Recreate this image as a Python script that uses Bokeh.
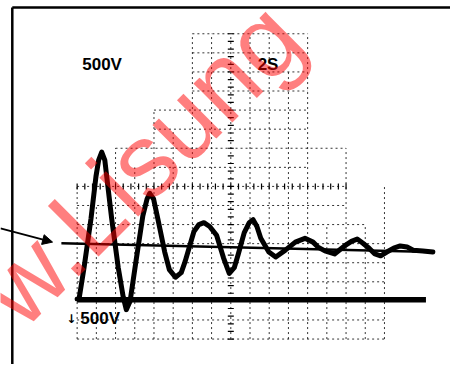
from bokeh.plotting import figure
from bokeh.models import Range1d, Arrow, NormalHead, Label
from bokeh.core.properties import value
from bokeh.embed import file_html
from bokeh.resources import INLINE
import math

# ---- data (in screen divisions) ----
trace_x = [0.00, 0.05, 0.18, 0.36, 0.49, 0.56, 0.64, 0.72, 0.77, 0.90, 1.07, 1.20, 1.28, 1.38,
           1.53, 1.71, 1.82, 1.89, 1.99, 2.10, 2.28, 2.40, 2.56, 2.71, 2.81, 3.04, 3.17, 3.30,
           3.45, 3.63, 3.81, 3.96, 4.09, 4.19, 4.35, 4.48, 4.58, 4.68, 4.78, 4.99, 5.17, 5.42,
           5.68, 5.93, 6.14, 6.27, 6.45, 6.70, 6.96, 7.14, 7.29, 7.44, 7.60, 7.75, 7.90, 8.06,
           8.24, 8.41, 8.59, 8.75, 9.00, 9.26]
trace_y = [1.05, 1.05, 1.87, 3.15, 4.26, 4.69, 4.90, 4.69, 4.26, 3.15, 1.87, 1.10, 0.77, 1.00,
           2.03, 3.23, 3.67, 3.82, 3.67, 3.15, 2.28, 1.82, 1.62, 1.74, 2.03, 2.82, 3.00, 3.05,
           2.95, 2.72, 2.13, 1.72, 1.87, 2.21, 2.79, 3.05, 3.13, 2.95, 2.64, 2.28, 2.15, 2.33,
           2.54, 2.64, 2.54, 2.41, 2.31, 2.23, 2.44, 2.56, 2.62, 2.51, 2.38, 2.23, 2.18, 2.28,
           2.38, 2.44, 2.41, 2.33, 2.31, 2.28]

ref_x = [-0.41, 9.26]
ref_y = [2.51, 2.28]

base_x = [0.0, 9.08]
base_y = [1.03, 1.03]

# graticule (divisions) and the visible extents of each line
vgrid_x = [0, 0.5, 1, 1.5, 2, 2.5, 3, 3.5, 4, 4.5, 5, 5.5, 6, 6.5, 7, 7.5, 8]
vgrid_top = [4, 3.5, 5, 4.5, 6, 5.5, 8, 8, 8, 8, 8, 7, 8, 3, 5, 3, 4]
hgrid_y = [0, 0.5, 1, 1.5, 2, 2.5, 3, 3.5, 4, 4.5, 5, 5.5, 6, 6.5, 7, 7.5, 8]
hgrid_x0 = [0, 0, 0, 0, 0, 0, 0, 0, 0, 2, 1, 2, 2, 3, 3, 3, 3]
hgrid_x1 = [8, 8, 8, 8, 8, 8, 7.5, 7, 7, 6, 7, 6, 6, 6, 6, 6, 6]

labels = ["500V", "2S", "500V"]
label_x = [0.65, 4.97, 0.60]
label_y = [7.19, 7.19, 0.54]

# ---- figure ----
X0, X1 = -1.995, 9.719
Y0, Y1 = -0.667, 8.872
p = figure(width=450, height=364, output_backend="svg", toolbar_location=None,
           x_range=Range1d(X0, X1), y_range=Range1d(Y0, Y1),
           x_axis_type=None, y_axis_type=None, min_border=0)
p.outline_line_color = None
p.xgrid.visible = False
p.ygrid.visible = False
p.background_fill_color = "white"

# graticule
p.segment(x0=vgrid_x, y0=[0] * len(vgrid_x), x1=vgrid_x, y1=vgrid_top,
          line_color="black", line_width=1, line_dash="2 3", line_alpha=0.8)
p.segment(x0=hgrid_x0, y0=hgrid_y, x1=hgrid_x1, y1=hgrid_y,
          line_color="black", line_width=1, line_dash="2 3", line_alpha=0.8)

# centre-line tick marks
ticks = [i * 0.2 for i in range(0, 41)]
p.scatter(x=[4] * len(ticks), y=ticks, marker="dash", size=6, line_color="black", line_width=1.2)
tx = [i * 0.2 for i in range(0, 36)]
p.scatter(x=tx, y=[4] * len(tx), marker="dash", angle=math.pi / 2, size=6,
          line_color="black", line_width=1.2)

# frame of the scan
p.segment(x0=[-1.688, -1.688], y0=[8.69, Y0], x1=[X1, -1.688], y1=[8.69, 8.69],
          line_color="black", line_width=2.5)

# traces
p.line(ref_x, ref_y, line_color="black", line_width=2.5)
p.line(base_x, base_y, line_color="black", line_width=5.5)
p.line(trace_x, trace_y, line_color="black", line_width=5, line_join="round", line_cap="round")

# labels
p.text(x=label_x, y=label_y, text=labels, text_font=value("Liberation Sans"),
       text_font_style="bold", text_font_size="17px", text_align="center",
       text_baseline="middle", text_color="black")
p.text(x=[-0.15], y=[0.52], text=["\u2193"], text_font=value("DejaVu Sans"),
       text_font_style="bold", text_font_size="12px", text_align="center",
       text_baseline="middle", text_color="black")

# arrow pointing at the reference line
p.add_layout(Arrow(end=NormalHead(size=10, fill_color="black", line_color="black"),
                   x_start=-1.995, y_start=2.90, x_end=-0.64, y_end=2.54,
                   line_color="black", line_width=2))

# watermark
p.add_layout(Label(x=-3.0, y=58.0, x_units="screen", y_units="screen", text="w.Lisung",
                   angle=math.pi / 4, text_font="Liberation Sans", text_font_size="104px",
                   text_color="red", text_alpha=0.5, text_align="left", text_baseline="alphabetic"))

open("out.html", "w").write(file_html(p, INLINE))
